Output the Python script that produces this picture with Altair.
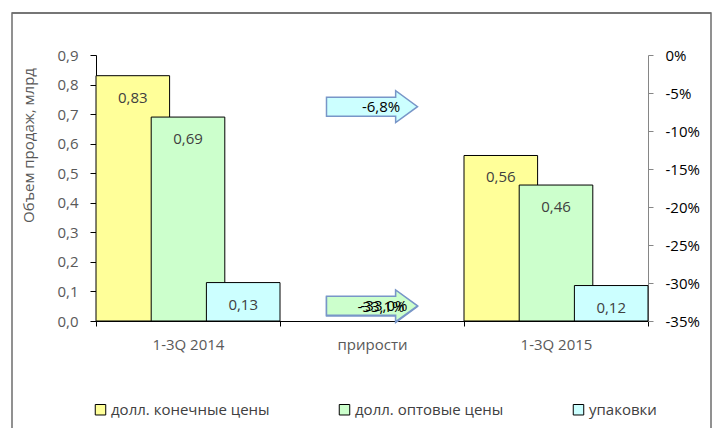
import altair as alt
import pandas as pd

# ---- data ----
categories = ["1-3Q 2014", "прирости", "1-3Q 2015"]
series = ["долл. конечные цены", "долл. оптовые цены", "упаковки"]
sales_2014 = [0.83, 0.69, 0.13]
sales_2015 = [0.56, 0.46, 0.12]
growth = [-0.331, -0.330, -0.068]
colors = ["#FFFF99", "#CCFFCC", "#CCFFFF"]
left_ticks = [0.0, 0.1, 0.2, 0.3, 0.4, 0.5, 0.6, 0.7, 0.8, 0.9]
right_ticks = [0.0, -0.05, -0.10, -0.15, -0.20, -0.25, -0.30, -0.35]

FONT = "Open Sans"

rows = []
for ci, vals in ((0, sales_2014), (2, sales_2015)):
    for si, (s, v) in enumerate(zip(series, vals)):
        rows.append({"cat": ci, "s": si, "series": s, "value": v})
bars_df = pd.DataFrame(rows)
arrows_df = pd.DataFrame({"cat": [1, 1, 1], "s": [0, 1, 2], "series": series, "growth": growth})

label_expr_x = " : ".join(
    f"datum.value == {i + 0.5} ? '{c}'" for i, c in enumerate(categories)
) + " : ''"

xscale = alt.Scale(domain=[0, 3], nice=False, zero=False)
xaxis = alt.Axis(
    values=[0, 0.5, 1, 1.5, 2, 2.5, 3], labelExpr=label_expr_x,
    tickOpacity={"expr": "datum.value % 1 == 0 ? 1 : 0"},
    title=None, tickSize=5, tickColor="black", domainColor="black",
    labelColor="#595959", labelFontSize=15, labelFont=FONT, labelPadding=11,
    grid=False, labelFlush=False, labelOverlap=False, labelBound=False,
)
yscale_left = alt.Scale(domain=[0, 0.9], nice=False)
yaxis_left = alt.Axis(
    values=left_ticks, labelExpr="replace(format(datum.value, '.1f'), '.', ',')",
    tickSize=6, tickColor="black", domainColor="black", labelColor="#595959",
    labelFontSize=15, labelFont=FONT, labelPadding=12, grid=False,
    title="Объем продаж, млрд", titleFont=FONT, titleFontSize=15,
    titleFontWeight="normal", titleColor="#595959", titleAngle=270,
    titleAlign="center", titleBaseline="middle", titleX=-68, titleY=90,
    orient="left", labelFlush=False, labelOverlap=False, labelBound=False,
)
yscale_right = alt.Scale(domain=[-0.35, 0], nice=False)
yaxis_right = alt.Axis(
    values=right_ticks, labelExpr="replace(format(datum.value, '.0%'), '−', '-')",
    tickSize=5, tickColor="#868686", domainColor="#868686", labelColor="black",
    labelFontSize=15, labelFont=FONT, labelPadding=12, grid=False, title=None,
    orient="right", labelFlush=False, labelOverlap=False, labelBound=False,
)

one = pd.DataFrame({"k": [0]})
frame = alt.Chart(one).mark_rect(
    filled=False, stroke="#6E6E6E", strokeWidth=1.5
).encode(x=alt.value(-84), x2=alt.value(615), y=alt.value(-42), y2=alt.value(420))
frame_top = alt.Chart(one).mark_rule(color="#6E6E6E", strokeWidth=1.5).encode(
    x=alt.value(-84), x2=alt.value(615), y=alt.value(-42)
)

bar_base = alt.Chart(bars_df).transform_calculate(
    x0="datum.cat + 0.3 * datum.s",
    x1="datum.cat + 0.3 * datum.s + 0.4",
    xm="datum.cat + 0.3 * datum.s + 0.2",
    label="replace(format(datum.value, '.2f'), '.', ',')",
)
bars = bar_base.mark_bar(stroke="black", strokeWidth=1, opacity=1).encode(
    x=alt.X("x0:Q", scale=xscale, axis=xaxis),
    x2="x1:Q",
    y=alt.Y("value:Q", scale=yscale_left, axis=yaxis_left),
    y2=alt.datum(0),
    fill=alt.Fill(
        "series:N", scale=alt.Scale(domain=series, range=colors),
        legend=alt.Legend(
            orient="none", legendX=-3, legendY=347, direction="horizontal",
            title=None, symbolType="square", symbolSize=110,
            symbolStrokeColor="black", symbolStrokeWidth=1,
            labelFontSize=15, labelFont=FONT, labelColor="#404040",
            columnPadding=67, labelOffset=3, symbolOpacity=1,
        ),
    ),
)
bar_labels = bar_base.mark_text(
    dy=22, fontSize=15, font=FONT, color="#404040"
).encode(
    x=alt.X("xm:Q", scale=xscale, axis=xaxis),
    y=alt.Y("value:Q", scale=yscale_left, axis=yaxis_left),
    text="label:N",
)

arrow_path = "M-1,-0.21L0.52,-0.21L0.52,-0.35L1,0L0.52,0.35L0.52,0.21L-1,0.21Z"
arrow_base = alt.Chart(arrows_df).transform_calculate(
    xc="datum.cat + 0.5",
    xt="datum.cat + 0.5 + (datum.s == 1 ? 0.016 : 0)",
    label="replace(replace(format(datum.growth, '.1%'), '.', ','), '−', '-')",
)
arrows = arrow_base.mark_point(
    shape=arrow_path, size=8281, filled=True, opacity=1,
    stroke="#7896C8", strokeWidth=1.5,
).encode(
    x=alt.X("xc:Q", scale=xscale, axis=xaxis),
    y=alt.Y("growth:Q", scale=yscale_right, axis=yaxis_right),
    fill=alt.Fill("series:N", scale=alt.Scale(domain=series, range=colors), legend=None),
)
arrow_labels = arrow_base.mark_text(
    dx=9, fontSize=15, font=FONT, color="black"
).encode(
    x=alt.X("xt:Q", scale=xscale, axis=xaxis),
    y=alt.Y("growth:Q", scale=yscale_right, axis=yaxis_right),
    text="label:N",
)

left = alt.layer(frame, frame_top, bars, bar_labels)
right = alt.layer(arrows, arrow_labels)

chart = alt.layer(left, right).resolve_scale(
    y="independent", fill="independent"
).properties(
    width=552, height=266,
    padding={"left": 88, "top": 47, "right": 64, "bottom": 107},
    autosize=alt.AutoSizeParams(type="none"),
).configure_view(stroke="transparent")

chart.save("out.html", embed_options={"renderer": "svg", "actions": False})
